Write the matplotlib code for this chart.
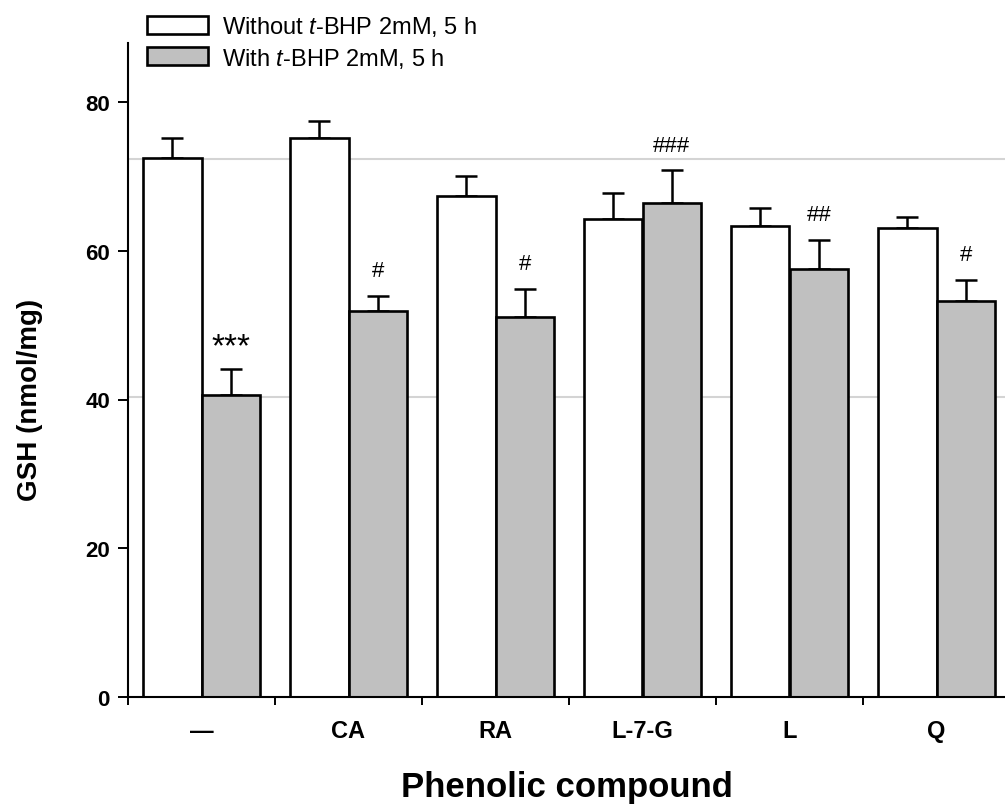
import matplotlib
matplotlib.use("Agg")
import matplotlib.pyplot as plt
import numpy as np
from matplotlib.patches import Patch

plt.rcParams['font.family'] = ['Liberation Sans', 'DejaVu Sans']
plt.rcParams['mathtext.fontset'] = 'custom'
plt.rcParams['mathtext.it'] = 'Liberation Sans:italic'
plt.rcParams['mathtext.rm'] = 'Liberation Sans'

# data
compounds = ["\u2014", "CA", "RA", "L-7-G", "L", "Q"]
without_mean = [72.5, 75.1, 67.3, 64.3, 63.3, 63.1]
without_err = [2.6, 2.3, 2.8, 3.5, 2.4, 1.5]
with_mean = [40.6, 51.9, 51.1, 66.4, 57.5, 53.2]
with_err = [3.5, 2.0, 3.8, 4.4, 4.0, 2.9]
signif = ["***", "#", "#", "###", "##", "#"]
control_lines = [72.4, 40.4]

x = np.arange(len(compounds))
w = 0.40

fig = plt.figure(figsize=(10.05, 8.12), dpi=100)
ax = fig.add_axes([128 / 1005, 1 - 698 / 812, 882 / 1005, 654.5 / 812])

for yv in control_lines:
    ax.axhline(yv, color="#d4d4d4", lw=1.5, zorder=0)

ax.bar(x - w / 2, without_mean, w, color="white", edgecolor="black", lw=1.9, zorder=2)
ax.bar(x + w / 2, with_mean, w, color="#c0c0c0", edgecolor="black", lw=1.9, zorder=2)

# upper error bars only
ax.errorbar(x - w / 2, without_mean, yerr=[np.zeros(len(x)), without_err], fmt="none",
            ecolor="black", elinewidth=1.8, capsize=8, capthick=1.8, zorder=1)
ax.errorbar(x + w / 2, with_mean, yerr=[np.zeros(len(x)), with_err], fmt="none",
            ecolor="black", elinewidth=1.8, capsize=8, capthick=1.8, zorder=1)

for i in range(len(x)):
    star = "*" in signif[i]
    ax.text(x[i] + w / 2, with_mean[i] + with_err[i] + (3.0 if star else 3.4), signif[i],
            ha="center", va="center", fontsize=24 if star else 16)

ax.set_xlim(-0.5, 5.5)
ax.set_ylim(0, 88)
ax.set_yticks([0, 20, 40, 60, 80])
ax.set_xticks(np.arange(-0.5, 6.0, 1.0))
ax.set_xticklabels([])
ax.set_xticks(x, minor=True)
ax.set_xticklabels(compounds, minor=True, fontsize=17, fontweight="bold")
ax.tick_params(axis="x", which="minor", length=0, pad=16)
ax.tick_params(axis="x", which="major", direction="out", length=6, width=1.4)
ax.tick_params(axis="y", direction="out", length=7, width=1.4, labelsize=16, pad=6)
for lab in ax.get_yticklabels():
    lab.set_fontweight("bold")

for s in ["top", "right"]:
    ax.spines[s].set_visible(False)
for s in ["left", "bottom"]:
    ax.spines[s].set_linewidth(1.5)

fig.text(30 / 1005, 1 - 400 / 812, "GSH (nmol/mg)", rotation=90, ha="center",
         va="center", fontsize=20, fontweight="bold")
fig.text(567 / 1005, 1 - 788 / 812, "Phenolic compound", ha="center", va="center",
         fontsize=25, fontweight="bold")

handles = [Patch(facecolor="white", edgecolor="black", lw=1.9),
           Patch(facecolor="#c0c0c0", edgecolor="black", lw=1.9)]
labels = [r"Without $\it{t}$-BHP 2mM, 5 h", r"With $\it{t}$-BHP 2mM, 5 h"]
fig.legend(handles, labels, loc="upper left", bbox_to_anchor=(138 / 1005, 1 - 6 / 812),
           frameon=False, fontsize=17, handlelength=2.55, handleheight=0.8,
           handletextpad=0.6, labelspacing=0.3, borderaxespad=0)

fig.savefig("out.png", dpi=100)
